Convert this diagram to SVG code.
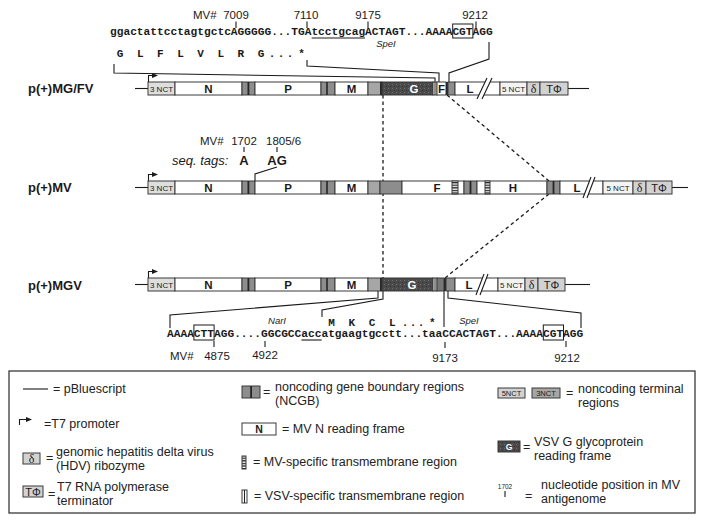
<svg xmlns="http://www.w3.org/2000/svg" width="704" height="522" viewBox="0 0 704 522">
<style>
 text { font-family: "Liberation Sans", Arial, sans-serif; fill: #1a1a1a; }
 .seq { font-family: "Liberation Mono", "Courier New", monospace; font-weight: bold; font-size: 11.2px; }
 .aa { font-family: "Liberation Mono", "Courier New", monospace; font-weight: bold; font-size: 11px; text-anchor: middle; }
 .num { font-size: 11.5px; }
 .numc { font-size: 11.5px; text-anchor: middle; }
 .it { font-style: italic; font-size: 9.5px; text-anchor: middle; }
 .cname { font-weight: bold; font-size: 13px; }
 .gl { font-weight: bold; font-size: 11.5px; text-anchor: middle; }
 .nct { font-size: 8px; text-anchor: middle; }
 .dl { font-family: "Liberation Serif", "DejaVu Serif", serif; font-size: 12px; text-anchor: middle; }
 .tp { font-size: 11px; text-anchor: middle; }
 .lg { font-size: 12.5px; fill: #222; }
 .ln { stroke: #1a1a1a; stroke-width: 1.1; fill: none; }
 .dash { stroke: #1a1a1a; stroke-width: 1.3; fill: none; stroke-dasharray: 3.5 3; }
 .box { stroke: #3a3a3a; stroke-width: 1; }
 .w { fill: #fff; }
 .lt { fill: #dedede; }
 .wt { fill: #f3f3f3; }
 .tf { fill: #d2d2d2; }
 .gr { fill: #8d8d8d; }
 .gr2 { fill: #a6a6a6; }
 .gr3 { fill: #767676; }
 .dk { fill: #262626; }
 .st { fill: url(#stip); }
 .hs { fill: url(#hstr); }
</style>
<defs>
 <pattern id="stip" width="4" height="4" patternUnits="userSpaceOnUse">
  <rect width="4" height="4" fill="#4a4a4a"/>
  <rect x="0" y="0" width="1" height="1" fill="#6c6c6c"/>
  <rect x="2" y="2" width="1" height="1" fill="#333"/>
 </pattern>
 <pattern id="hstr" width="6" height="2.6" patternUnits="userSpaceOnUse">
  <rect width="6" height="2.6" fill="#fff"/>
  <rect width="6" height="1.3" fill="#222"/>
 </pattern>
 <marker id="ah" markerWidth="6" markerHeight="6" refX="4" refY="3" orient="auto" markerUnits="userSpaceOnUse">
  <path d="M0,0.6 L6,3 L0,5.4 Z" fill="#1a1a1a"/>
 </marker>
</defs>
<rect width="704" height="522" fill="#fff"/>

<g id="connectors">
 <path class="dash" d="M383,95 V278"/>
 <path class="dash" d="M447,95 L549,181"/>
 <path class="dash" d="M549,194 L445,278"/>
 <path class="ln" d="M114,64 V73 L435,78 V82"/>
 <path class="ln" d="M307,60 V66 L439,73 V82"/>
 <path class="ln" d="M489,42 V59 L449,73 V82"/>
 <path class="ln" d="M277,167 L255,174 V181"/>
 <path class="ln" d="M378,291 V298 L170,315 V328"/>
 <path class="ln" d="M383,291 V299 L322,310 V317"/>
 <path class="ln" d="M444,291 V327"/>
 <path class="ln" d="M448,291 V298 L581,313 V328"/>
</g>

<g id="seq-top">
 <text class="num" x="193" y="19">MV#</text>
 <text class="numc" x="236" y="19">7009</text>
 <text class="numc" x="306" y="19">7110</text>
 <text class="numc" x="368" y="19">9175</text>
 <text class="numc" x="475" y="19">9212</text>
 <path class="ln" d="M236,21.5 V28 M307,21.5 V28 M368,21.5 V28 M476,21.5 V28"/>
 <text class="seq" x="110" y="35">ggactattcctagtgctcAGGGGG...TGAtcctgcagACTAGT...AAAACGTAGG</text>
 <path class="ln" d="M311.6,38 H365"/>
 <rect x="452.7" y="24" width="20.2" height="14" fill="none" stroke="#1a1a1a" stroke-width="1"/>
 <text class="it" x="386" y="47">SpeI</text>
 <text class="aa" x="120.1 140.2 160.4 180.5 200.6 220.8 240.9 261 272 281 290 301.5" y="57">GLFLVLRG...*</text>
</g>

<g id="pMGFV">
 <text class="cname" x="28" y="93">p(+)MG/FV</text>
 <line class="ln" x1="135" y1="88.5" x2="148" y2="88.5"/>
 <line class="ln" x1="568" y1="88.5" x2="589" y2="88.5"/>
 <path class="ln" d="M148.5,82 V75.5 H156" marker-end="url(#ah)"/>
 <rect class="box lt" x="148" y="82" width="27" height="13"/>
 <text class="nct" x="161.5" y="91.5">3 NCT</text>
 <rect class="box w" x="175" y="82" width="67" height="13"/>
 <text class="gl" x="208.5" y="92.5">N</text>
 <rect class="box gr" x="242" y="82" width="13" height="13"/>
 <rect class="dk" x="247.5" y="82" width="1.8" height="13"/>
 <rect class="box w" x="255" y="82" width="66" height="13"/>
 <text class="gl" x="288" y="92.5">P</text>
 <rect class="box gr" x="321" y="82" width="14" height="13"/>
 <rect class="dk" x="326.2" y="82" width="1.6" height="13"/>
 <rect class="box w" x="335" y="82" width="33" height="13"/>
 <text class="gl" x="351.5" y="92.5">M</text>
 <rect class="box gr2" x="368" y="82" width="14" height="13"/>
 <rect class="dk" x="380" y="82" width="2" height="13"/>
 <rect class="box st" x="382" y="82" width="51" height="13"/>
 <text class="gl" x="414" y="92.5" style="fill:#fff">G</text>
 <rect class="box w" x="433" y="82" width="4" height="13"/>
 <line x1="435" y1="82" x2="435" y2="95" stroke="#222" stroke-width="1"/>
 <rect class="box w" x="437" y="82" width="9" height="13"/>
 <text class="gl" x="441.5" y="92.5">F</text>
 <rect class="dk" x="446" y="82" width="2" height="13"/>
 <rect class="box gr" x="448" y="82" width="7" height="13"/>
 <rect class="box w" x="455" y="82" width="45" height="13"/>
 <text class="gl" x="470" y="92.5">L</text>
 <polygon points="477,99 487,78 492,78 482,99" fill="#fff"/>
 <path class="ln" d="M477,99 L487,78 M482,99 L492,78"/>
 <rect class="box wt" x="500" y="82" width="27" height="13"/>
 <text class="nct" x="513.5" y="91.5">5 NCT</text>
 <rect class="box tf" x="527" y="82" width="13" height="13"/>
 <text class="dl" x="533.5" y="93">δ</text>
 <rect class="box tf" x="540" y="82" width="28" height="13"/>
 <text class="tp" x="554" y="92.5">TΦ</text>
</g>

<g id="seq-tags">
 <text class="num" x="200" y="145">MV#</text>
 <text class="numc" x="244" y="145">1702</text>
 <text class="num" x="266" y="145">1805/6</text>
 <path class="ln" d="M244,147 V152 M277,147 V152"/>
 <text x="172" y="165" style="font-style:italic;font-size:13px">seq. tags:</text>
 <text x="244" y="165" style="font-weight:bold;font-size:13px;text-anchor:middle">A</text>
 <text x="277" y="165" style="font-weight:bold;font-size:13px;text-anchor:middle">AG</text>
</g>

<g id="pMV">
 <text class="cname" x="28" y="192">p(+)MV</text>
 <line class="ln" x1="135" y1="187.5" x2="148" y2="187.5"/>
 <line class="ln" x1="672" y1="187.5" x2="688" y2="187.5"/>
 <path class="ln" d="M148.5,181 V174.5 H156" marker-end="url(#ah)"/>
 <rect class="box lt" x="148" y="181" width="27" height="13"/>
 <text class="nct" x="161.5" y="190.5">3 NCT</text>
 <rect class="box w" x="175" y="181" width="67" height="13"/>
 <text class="gl" x="208.5" y="191.5">N</text>
 <rect class="box gr" x="242" y="181" width="13" height="13"/>
 <rect class="dk" x="247.5" y="181" width="1.8" height="13"/>
 <rect class="box w" x="255" y="181" width="66" height="13"/>
 <text class="gl" x="288" y="191.5">P</text>
 <rect class="box gr" x="321" y="181" width="14" height="13"/>
 <rect class="dk" x="326.2" y="181" width="1.6" height="13"/>
 <rect class="box w" x="335" y="181" width="33" height="13"/>
 <text class="gl" x="351.5" y="191.5">M</text>
 <rect class="box gr2" x="368" y="181" width="12" height="13"/>
 <rect class="box gr" x="380" y="181" width="22" height="13"/>
 <rect class="box w" x="402" y="181" width="62" height="13"/>
 <text class="gl" x="437" y="191.5">F</text>
 <rect class="box hs" x="452" y="181" width="6" height="13"/>
 <rect class="box gr" x="464" y="181" width="13" height="13"/>
 <rect class="dk" x="469.6" y="181" width="1.8" height="13"/>
 <rect class="box w" x="477" y="181" width="70" height="13"/>
 <rect class="box hs" x="485" y="181" width="5" height="13"/>
 <text class="gl" x="513" y="191.5">H</text>
 <rect class="box gr" x="547" y="181" width="13" height="13"/>
 <rect class="dk" x="552.6" y="181" width="1.8" height="13"/>
 <rect class="box w" x="560" y="181" width="43" height="13"/>
 <text class="gl" x="577" y="191.5">L</text>
 <polygon points="583,198 591,177 595,177 587,198" fill="#fff"/>
 <path class="ln" d="M583,198 L591,177 M587,198 L595,177"/>
 <rect class="box wt" x="603" y="181" width="30" height="13"/>
 <text class="nct" x="618" y="190.5">5 NCT</text>
 <rect class="box tf" x="633" y="181" width="13" height="13"/>
 <text class="dl" x="639.5" y="192">δ</text>
 <rect class="box tf" x="646" y="181" width="26" height="13"/>
 <text class="tp" x="659" y="191.5">TΦ</text>
</g>

<g id="pMGV">
 <text class="cname" x="28" y="290">p(+)MGV</text>
 <line class="ln" x1="135" y1="284.5" x2="148" y2="284.5"/>
 <line class="ln" x1="565" y1="284.5" x2="590" y2="284.5"/>
 <path class="ln" d="M148.5,278 V271.5 H156" marker-end="url(#ah)"/>
 <rect class="box lt" x="148" y="278" width="27" height="13"/>
 <text class="nct" x="161.5" y="287.5">3 NCT</text>
 <rect class="box w" x="175" y="278" width="67" height="13"/>
 <text class="gl" x="208.5" y="288.5">N</text>
 <rect class="box gr" x="242" y="278" width="13" height="13"/>
 <rect class="dk" x="247.5" y="278" width="1.8" height="13"/>
 <rect class="box w" x="255" y="278" width="66" height="13"/>
 <text class="gl" x="288" y="288.5">P</text>
 <rect class="box gr" x="321" y="278" width="14" height="13"/>
 <rect class="dk" x="326.2" y="278" width="1.6" height="13"/>
 <rect class="box w" x="335" y="278" width="33" height="13"/>
 <text class="gl" x="351.5" y="288.5">M</text>
 <rect class="box gr2" x="368" y="278" width="14" height="13"/>
 <rect class="dk" x="380" y="278" width="2" height="13"/>
 <rect class="box st" x="382" y="278" width="51" height="13"/>
 <text class="gl" x="412" y="288.5" style="fill:#fff">G</text>
 <rect class="box w" x="433" y="278" width="4" height="13"/>
 <line x1="435" y1="278" x2="435" y2="291" stroke="#222" stroke-width="1"/>
 <rect class="box gr3" x="437" y="278" width="7" height="13"/>
 <rect class="dk" x="444" y="278" width="2" height="13"/>
 <rect class="box gr" x="446" y="278" width="9" height="13"/>
 <rect class="box w" x="455" y="278" width="43" height="13"/>
 <text class="gl" x="469" y="288.5">L</text>
 <polygon points="476,295 484,274 488,274 480,295" fill="#fff"/>
 <path class="ln" d="M476,295 L484,274 M480,295 L488,274"/>
 <rect class="box wt" x="498" y="278" width="27" height="13"/>
 <text class="nct" x="511.5" y="287.5">5 NCT</text>
 <rect class="box tf" x="525" y="278" width="13" height="13"/>
 <text class="dl" x="531.5" y="289">δ</text>
 <rect class="box tf" x="538" y="278" width="27" height="13"/>
 <text class="tp" x="551.5" y="288.5">TΦ</text>
</g>

<g id="seq-bottom">
 <text class="it" x="277" y="324">NarI</text>
 <text class="aa" x="331.6 351.8 372 392.2 405 413 421 432.4" y="326">MKCL...*</text>
 <text class="it" x="469" y="324">SpeI</text>
 <text class="seq" x="167" y="337">AAAACTTAGG....GGCGCCaccatgaagtgcctt...taaCCACTAGT...AAAACGTAGG</text>
 <rect x="193.9" y="325" width="20.2" height="15" fill="none" stroke="#1a1a1a" stroke-width="1"/>
 <rect x="543.3" y="325" width="20.2" height="15" fill="none" stroke="#1a1a1a" stroke-width="1"/>
 <path class="ln" d="M301.4,340 H321.6"/>
 <path class="ln" d="M214,341 V347 M265,341 V347 M445,342 V348 M566,341 V347"/>
 <text class="num" x="170" y="360">MV#</text>
 <text class="numc" x="217" y="360">4875</text>
 <text class="numc" x="265" y="359">4922</text>
 <text class="numc" x="445" y="362">9173</text>
 <text class="numc" x="567" y="362">9212</text>
</g>

<g id="legend">
 <rect x="9" y="371" width="686" height="142" fill="none" stroke="#3a3a3a" stroke-width="1.3"/>
 <g id="lg-pbluescript">
  <line class="ln" x1="23" y1="389" x2="48" y2="389"/>
  <text class="lg" x="53" y="393">= pBluescript</text>
 </g>
 <g id="lg-t7">
  <path class="ln" d="M19.5,425 V419.5 H30" marker-end="url(#ah)"/>
  <text class="lg" x="44" y="428">=T7 promoter</text>
 </g>
 <g id="lg-hdv">
  <rect class="box tf" x="23" y="453" width="17" height="11"/>
  <text class="dl" x="31.5" y="462.5">δ</text>
  <text class="lg" x="46" y="462">=</text>
  <text class="lg" x="56" y="455.5">genomic hepatitis delta virus</text>
  <text class="lg" x="56" y="469.5">(HDV) ribozyme</text>
 </g>
 <g id="lg-term">
  <rect class="box tf" x="23" y="486" width="20" height="11"/>
  <text class="tp" x="33" y="495.5">TΦ</text>
  <text class="lg" x="48" y="498">=</text>
  <text class="lg" x="57" y="491">T7 RNA polymerase</text>
  <text class="lg" x="57" y="505">terminator</text>
 </g>
 <g id="lg-ncgb">
  <rect class="box gr" x="242" y="386" width="18" height="12"/>
  <rect class="dk" x="250.2" y="386" width="1.8" height="12"/>
  <text class="lg" x="263" y="396">=</text>
  <text class="lg" x="275" y="391">noncoding gene boundary regions</text>
  <text class="lg" x="275" y="405">(NCGB)</text>
 </g>
 <g id="lg-n">
  <rect class="box w" x="242" y="423" width="34" height="12"/>
  <text x="259" y="433" style="font-weight:bold;font-size:10.5px;text-anchor:middle">N</text>
  <text class="lg" x="282" y="433">= MV N reading frame</text>
 </g>
 <g id="lg-mvtm">
  <rect class="box hs" x="242" y="456" width="4" height="13"/>
  <text class="lg" x="253" y="466">= MV-specific transmembrane region</text>
 </g>
 <g id="lg-vsvtm">
  <rect class="box w" x="242" y="490" width="5" height="13"/>
  <line x1="244.5" y1="490" x2="244.5" y2="503" stroke="#222" stroke-width="1"/>
  <text class="lg" x="254" y="500">= VSV-specific transmembrane region</text>
 </g>
 <g id="lg-nct">
  <rect class="box tf" x="498" y="388" width="27" height="10"/>
  <text x="511.5" y="396" style="font-size:7.5px;text-anchor:middle">5NCT</text>
  <rect class="box gr2" x="532" y="388" width="28" height="10"/>
  <text x="546" y="396" style="font-size:7.5px;text-anchor:middle">3NCT</text>
  <text class="lg" x="566" y="397">=</text>
  <text class="lg" x="578" y="392.5">noncoding terminal</text>
  <text class="lg" x="578" y="406.5">regions</text>
 </g>
 <g id="lg-g">
  <rect class="box st" x="498" y="441" width="22" height="11"/>
  <text x="509" y="449.5" style="font-weight:bold;font-size:8.5px;text-anchor:middle;fill:#fff">G</text>
  <text class="lg" x="523" y="451">=</text>
  <text class="lg" x="534" y="445.5">VSV G glycoprotein</text>
  <text class="lg" x="534" y="459.5">reading frame</text>
 </g>
 <g id="lg-pos">
  <text x="505" y="489" style="font-size:6.5px;text-anchor:middle">1702</text>
  <path class="ln" d="M505,491 V497"/>
  <text class="lg" x="525" y="500">=</text>
  <text class="lg" x="541" y="488.5">nucleotide position in MV</text>
  <text class="lg" x="541" y="502.5">antigenome</text>
 </g>
</g>
</svg>
